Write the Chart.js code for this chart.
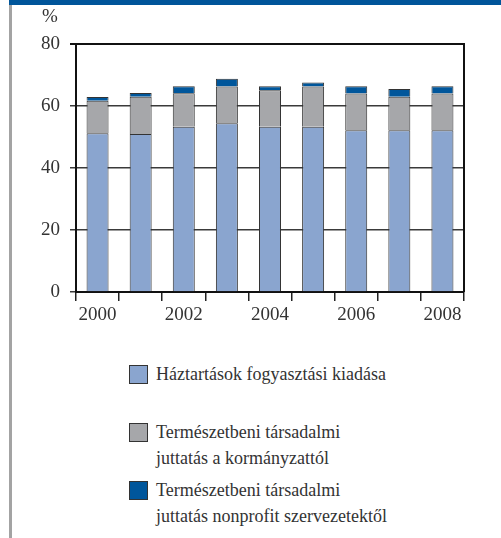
<!DOCTYPE html>
<html>
<head>
<meta charset="utf-8">
<script src="https://cdn.jsdelivr.net/npm/chart.js@4.4.0/dist/chart.umd.min.js"></script>
<style>
  body { margin: 0; background: #fff; font-family: "Liberation Serif", "Times New Roman", serif; color: #333; }
  #wrap { position: relative; width: 501px; height: 538px; overflow: hidden; }
  #stripe { position: absolute; left: 9px; top: 0; width: 492px; height: 5px; background: #00559a; }
  #side { position: absolute; left: 9px; top: 5px; width: 3px; height: 533px; background: #a3a3a3; }
  #chart { position: absolute; left: 0; top: 0; }
  #unit { position: absolute; left: 42px; top: 5px; font-size: 19px; }
  .item { position: absolute; left: 129px; font-size: 18px; line-height: 26px; }
  .item .box { position: absolute; left: 0; top: 4px; width: 17px; height: 17px; border: 1px solid #333; }
  .item .txt { position: absolute; left: 27px; top: 0; white-space: nowrap; }
</style>
</head>
<body>
<div id="wrap">
  <div id="stripe"></div>
  <div id="side"></div>
  <canvas id="chart" width="501" height="340"></canvas>
  <div id="unit">%</div>
  <div id="legend"></div>
</div>
<script>
const years = ['2000', '2001', '2002', '2003', '2004', '2005', '2006', '2007', '2008'];
const household = [51.2, 51.0, 53.3, 54.4, 53.3, 53.3, 52.2, 52.2, 52.2];
const government = [10.5, 12.0, 10.8, 11.9, 11.8, 13.0, 11.8, 10.8, 11.8];
const nonprofit = [1.2, 1.2, 2.3, 2.5, 1.3, 1.3, 2.4, 2.5, 2.4];
const yTicks = [0, 20, 40, 60, 80];

const seriesNames = [
    'Háztartások fogyasztási kiadása',
    'Természetbeni társadalmi\njuttatás a kormányzattól',
    'Természetbeni társadalmi\njuttatás nonprofit szervezetektől'
];
const seriesColors = ['#8aa5cf', '#a6a7aa', '#00569b'];

const tickFont = { family: '"Liberation Serif", "Times New Roman", serif', size: 19 };

// right-hand frame line of the plot
const frame = {
    id: 'frame',
    afterDraw(chart) {
        const a = chart.chartArea;
        const c = chart.ctx;
        c.save();
        c.strokeStyle = '#111';
        c.lineWidth = 2;
        c.beginPath();
        c.moveTo(a.right, a.top - 1);
        c.lineTo(a.right, a.bottom);
        c.stroke();
        c.restore();
    }
};

const ctx = document.getElementById('chart');
const myChart = new Chart(ctx, {
    type: 'bar',
    data: {
        labels: years,
        datasets: [household, government, nonprofit].map((d, i) => ({
            label: seriesNames[i],
            data: d,
            backgroundColor: seriesColors[i],
            borderColor: '#333',
            borderWidth: 1,
            barPercentage: 0.51,
            categoryPercentage: 1
        }))
    },
    options: {
        responsive: false,
        animation: false,
        devicePixelRatio: 1,
        layout: { padding: { top: 44, right: 37, left: 0, bottom: 0 } },
        plugins: { legend: { display: false }, tooltip: { enabled: false } },
        scales: {
            x: {
                stacked: true,
                afterFit: s => { s.height = 48; },
                grid: { offset: true, drawOnChartArea: false, tickLength: 9, color: '#222', lineWidth: 1.5 },
                border: { color: '#111', width: 2 },
                ticks: {
                    autoSkip: false, maxRotation: 0, padding: 3, color: '#333', font: tickFont,
                    callback: (v, i) => i % 2 === 0 ? years[i] : ''
                }
            },
            y: {
                stacked: true,
                min: 0,
                max: 80,
                afterFit: s => { s.width = 76; },
                afterBuildTicks: s => { s.ticks = yTicks.map(v => ({ value: v })); },
                grid: {
                    tickLength: 6,
                    color: c => c.tick && c.tick.value === 80 ? '#111' : '#3a3a3a',
                    lineWidth: c => c.tick && c.tick.value === 80 ? 2 : 1.5
                },
                border: { color: '#111', width: 2 },
                ticks: { padding: 10, color: '#333', font: tickFont }
            }
        }
    },
    plugins: [frame]
});

// legend
const tops = [361, 419, 477];
const legend = document.getElementById('legend');
seriesNames.forEach((name, i) => {
    const item = document.createElement('div');
    item.className = 'item';
    item.style.top = tops[i] + 'px';
    const box = document.createElement('div');
    box.className = 'box';
    box.style.background = seriesColors[i];
    const txt = document.createElement('div');
    txt.className = 'txt';
    txt.innerHTML = name.split('\n').join('<br>');
    item.appendChild(box);
    item.appendChild(txt);
    legend.appendChild(item);
});
</script>
</body>
</html>
